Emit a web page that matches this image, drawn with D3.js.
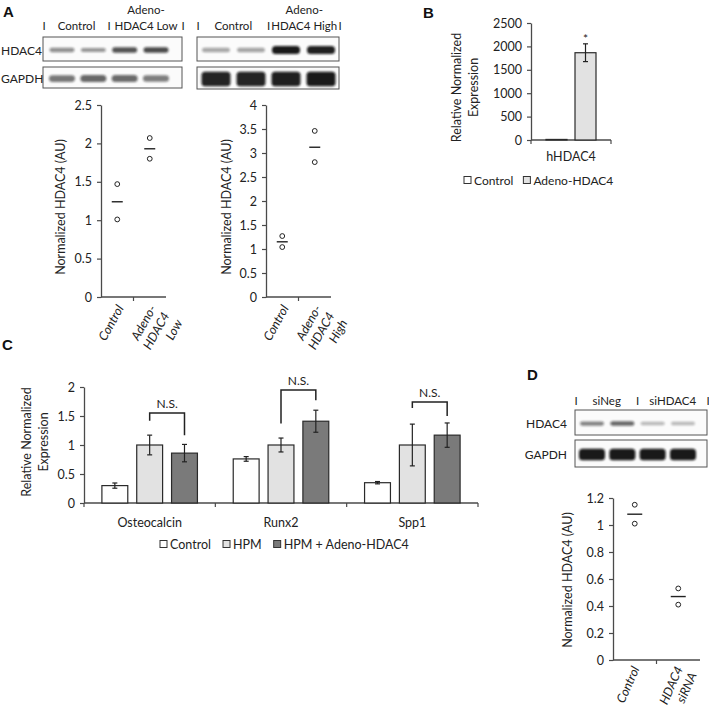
<!DOCTYPE html>
<html><head><meta charset="utf-8">
<script src="https://cdn.jsdelivr.net/npm/d3@7"></script>
<style>body{margin:0;background:#fff}svg{display:block}</style>
</head><body><svg id="chart" width="709" height="710"></svg>
<script>
// ===================== DATA =====================
// Panel A / D western blots: relative band intensity per lane (0-1)
const blotA1Hdac4 = [0.45, 0.42, 0.70, 0.74];
const blotA1Gapdh = [0.55, 0.62, 0.60, 0.52];
const blotA2Hdac4 = [0.35, 0.36, 0.95, 0.92];
const blotA2Gapdh = [0.90, 0.90, 0.92, 0.94];
const blotDHdac4  = [0.50, 0.62, 0.28, 0.28];
const blotDGapdh  = [0.95, 0.95, 0.95, 0.95];
const blotA1Groups = ["Control", "HDAC4 Low"];
const blotA2Groups = ["Control", "HDAC4 High"];
const blotDGroups  = ["siNeg", "siHDAC4"];

// Panel A quantification
const scatterA1Categories = ["Control", "Adeno-\nHDAC4\nLow"];
const scatterA1Values = [[1.47, 1.01], [2.07, 1.80]];
const scatterA1Means  = [1.24, 1.93];
const scatterA1Ticks  = [0, 0.5, 1, 1.5, 2, 2.5];
const scatterA2Categories = ["Control", "Adeno-\nHDAC4\nHigh"];
const scatterA2Values = [[1.27, 1.04], [3.46, 2.81]];
const scatterA2Means  = [1.15, 3.12];
const scatterA2Ticks  = [0, 0.5, 1, 1.5, 2, 2.5, 3, 3.5, 4];

// Panel B
const bCategories = ["hHDAC4"];
const bSeries = ["Control", "Adeno-HDAC4"];
const bValues = [[12], [1865]];
const bErrors = [[0], [190]];
const bSignif = ["", "*"];
const bTicks  = [0, 500, 1000, 1500, 2000, 2500];

// Panel C
const cCategories = ["Osteocalcin", "Runx2", "Spp1"];
const cSeries = ["Control", "HPM", "HPM + Adeno-HDAC4"];
const cValues = [[0.30, 0.76, 0.35], [1.00, 1.00, 1.00], [0.86, 1.41, 1.17]];
const cErrors = [[0.045, 0.04, 0.02], [0.17, 0.12, 0.36], [0.15, 0.19, 0.21]];
const cTicks  = [0, 0.5, 1, 1.5, 2];
const cBracketLevel = [1.55, 1.95, 1.74];
const cBracketLeft  = [1.42, 1.37, 1.64];
const cBracketRight = [1.17, 1.77, 1.50];
const cBracketLabel = ["N.S.", "N.S.", "N.S."];

// Panel D quantification
const scatterDCategories = ["Control", "HDAC4\nsiRNA"];
const scatterDValues = [[1.15, 1.01], [0.53, 0.41]];
const scatterDMeans  = [1.08, 0.47];
const scatterDTicks  = [0, 0.2, 0.4, 0.6, 0.8, 1, 1.2];

// ===================== STYLE =====================
const FONT = "Lato, 'Open Sans', 'DejaVu Sans', sans-serif";
const INK = "#222";
const AXIS = "#4a4a4a";
const bColors = ["#ffffff", "#e2e2e2"];
const cColors = ["#ffffff", "#e2e2e2", "#7a7a7a"];

const svg = d3.select("#chart");
svg.append("rect").attr("width", 709).attr("height", 710).attr("fill", "#fff");
const defs = svg.append("defs");
defs.append("filter").attr("id", "blur").attr("x", "-30%").attr("y", "-80%").attr("width", "160%").attr("height", "260%")
  .append("feGaussianBlur").attr("stdDeviation", 0.9);

function addText(parent, x, y, s, o = {}) {
  return parent.append("text").attr("x", x).attr("y", y).text(s)
    .attr("font-size", o.size || 12.5).attr("text-anchor", o.anchor || "start")
    .attr("font-weight", o.weight || "normal").attr("font-style", o.style || "normal")
    .attr("font-family", o.family || FONT).attr("fill", o.fill || INK);
}
function styleAxis(ax) {
  ax.select(".domain").attr("stroke", AXIS).attr("stroke-width", 1.3);
  ax.selectAll(".tick line").attr("stroke", AXIS).attr("stroke-width", 1.2);
  ax.selectAll(".tick text").attr("font-family", FONT).attr("font-size", 12.5).attr("fill", INK);
}
function panelLetter(x, y, s) {
  addText(svg, x, y, s, { size: 15, weight: "bold", family: "'Liberation Sans', Arial, sans-serif", fill: "#111" });
}

// ===================== BLOTS =====================
function drawBlot(o) {
  const g = svg.append("g");
  const lanes = d3.scalePoint().domain(d3.range(4)).range([o.lane0, o.lane1]);
  o.rows.forEach(r => {
    g.append("rect").attr("x", o.x0).attr("y", r.y0).attr("width", o.x1 - o.x0).attr("height", r.y1 - r.y0)
      .attr("fill", "#fbfbfb").attr("stroke", "#555").attr("stroke-width", 1);
    const hScale = d3.scaleLinear().domain([0, 1]).range([r.hMin, r.hMax]);
    const cy = (r.y0 + r.y1) / 2 + 1;
    r.vals.forEach((v, i) => {
      const h = hScale(v);
      g.append("rect").attr("x", lanes(i) - r.w / 2).attr("y", cy - h / 2).attr("width", r.w).attr("height", h)
        .attr("rx", Math.min(h / 2, 3.5)).attr("fill", "#111").attr("opacity", v).attr("filter", "url(#blur)");
    });
    if (r.label) addText(g, o.labelX, cy + 4.5, r.label, { anchor: o.labelAnchor, size: 12 });
  });
  // header: separators and group labels
  const seps = [o.x0 + 1, (lanes(1) + lanes(2)) / 2, o.x1 + 1];
  seps.forEach(s => addText(g, s, o.headerY, "I", { anchor: "middle", size: 11.5 }));
  o.groups.forEach((gr, i) => addText(g, (seps[i] + seps[i + 1]) / 2, o.headerY, gr, { anchor: "middle", size: 11.5 }));
  if (o.topLabel) addText(g, (seps[1] + seps[2]) / 2, o.headerY - 16, o.topLabel, { anchor: "middle", size: 11.5 });
}

drawBlot({ x0: 43, x1: 182, lane0: 62, lane1: 156, headerY: 30, labelX: 1, labelAnchor: "start", groups: blotA1Groups, topLabel: "Adeno-",
  rows: [{ label: "HDAC4", y0: 37, y1: 61, vals: blotA1Hdac4, hMin: 2.5, hMax: 6.5, w: 25 },
         { label: "GAPDH", y0: 67, y1: 88, vals: blotA1Gapdh, hMin: 4, hMax: 9, w: 26 }] });
drawBlot({ x0: 197, x1: 339, lane0: 216, lane1: 321, headerY: 30, labelX: 0, labelAnchor: "start", groups: blotA2Groups, topLabel: "Adeno-",
  rows: [{ label: "", y0: 37, y1: 61, vals: blotA2Hdac4, hMin: 2.5, hMax: 8.5, w: 28 },
         { label: "", y0: 67, y1: 89, vals: blotA2Gapdh, hMin: 8, hMax: 15, w: 29 }] });
drawBlot({ x0: 575, x1: 707, lane0: 592, lane1: 683, headerY: 405, labelX: 567, labelAnchor: "end", groups: blotDGroups, topLabel: null,
  rows: [{ label: "HDAC4", y0: 410, y1: 435, vals: blotDHdac4, hMin: 2.5, hMax: 6, w: 24 },
         { label: "GAPDH", y0: 440, y1: 467, vals: blotDGapdh, hMin: 7, hMax: 11.5, w: 26 }] });

// ===================== SCATTERS =====================
function drawScatter(o) {
  const g = svg.append("g");
  const y = d3.scaleLinear().domain([0, d3.max(o.ticks)]).range([o.yBottom, o.yTop]);
  const x = d3.scalePoint().domain(o.categories).range([o.x0, o.x1]).padding(0.5);
  const ax = g.append("g").attr("transform", `translate(${o.x0},0)`)
    .call(d3.axisLeft(y).tickValues(o.ticks).tickSize(4).tickSizeOuter(0).tickPadding(5).tickFormat(d3.format("~g")));
  styleAxis(ax);
  g.append("line").attr("x1", o.x0).attr("x2", o.x1).attr("y1", y(0)).attr("y2", y(0)).attr("stroke", AXIS).attr("stroke-width", 1.3);
  const mid = (x(o.categories[0]) + x(o.categories[1])) / 2;
  g.append("line").attr("x1", mid).attr("x2", mid).attr("y1", y(0)).attr("y2", y(0) + 4).attr("stroke", AXIS).attr("stroke-width", 1.2);
  o.categories.forEach((c, i) => {
    o.values[i].forEach(v => g.append("circle").attr("cx", x(c)).attr("cy", y(v)).attr("r", 2.4)
      .attr("fill", "none").attr("stroke", INK).attr("stroke-width", 1));
    g.append("line").attr("x1", x(c) - o.meanHalf).attr("x2", x(c) + o.meanHalf)
      .attr("y1", y(o.means[i])).attr("y2", y(o.means[i])).attr("stroke", INK).attr("stroke-width", 1.4);
    const lab = g.append("text").attr("transform", `translate(${x(c) + o.labDx},${y(0) + o.labDy}) rotate(${o.angle})`)
      .attr("text-anchor", "end").attr("font-family", FONT).attr("font-size", 12.5).attr("font-style", "italic").attr("fill", INK);
    c.split("\n").forEach((line, j) => lab.append("tspan").attr("x", 0).attr("dy", j === 0 ? "0.35em" : "1.2em").text(line));
  });
  g.append("text").attr("transform", `translate(${o.titleX},${(y(0) + y(d3.max(o.ticks))) / 2 + o.titleDy}) rotate(-90)`)
    .attr("text-anchor", "middle").attr("dy", "0.35em").attr("font-family", FONT).attr("font-size", 12.5).attr("fill", INK)
    .text("Normalized HDAC4 (AU)");
}

drawScatter({ categories: scatterA1Categories, values: scatterA1Values, means: scatterA1Means, ticks: scatterA1Ticks,
  x0: 101, x1: 166, yTop: 105, yBottom: 297, meanHalf: 5.5, labDx: 3, labDy: 9, angle: -61, titleX: 61, titleDy: 6 });
drawScatter({ categories: scatterA2Categories, values: scatterA2Values, means: scatterA2Means, ticks: scatterA2Ticks,
  x0: 266, x1: 331, yTop: 105, yBottom: 297, meanHalf: 5.5, labDx: 3, labDy: 9, angle: -61, titleX: 227, titleDy: 6 });
drawScatter({ categories: scatterDCategories, values: scatterDValues, means: scatterDMeans, ticks: scatterDTicks,
  x0: 613, x1: 700, yTop: 498, yBottom: 660, meanHalf: 7.5, labDx: 1, labDy: 7, angle: -66, titleX: 568, titleDy: 1 });

// ===================== BAR CHARTS =====================
function drawBars(o) {
  const g = svg.append("g");
  const y = d3.scaleLinear().domain([0, d3.max(o.ticks)]).range([o.yBottom, o.yTop]);
  const x0 = d3.scaleBand().domain(o.categories).range([o.x0, o.x1]);
  const x1 = d3.scaleBand().domain(o.series).range([0, x0.bandwidth()]).paddingInner(o.pi).paddingOuter(o.po);
  const ax = g.append("g").attr("transform", `translate(${o.x0},0)`)
    .call(d3.axisLeft(y).tickValues(o.ticks).tickSize(4).tickSizeOuter(0).tickPadding(5).tickFormat(d3.format("~g")));
  styleAxis(ax);
  g.append("line").attr("x1", o.x0).attr("x2", o.x1).attr("y1", y(0)).attr("y2", y(0)).attr("stroke", AXIS).attr("stroke-width", 1.3);
  const bounds = o.categories.map(c => x0(c)).concat([o.x1]);
  bounds.forEach(b => g.append("line").attr("x1", b).attr("x2", b).attr("y1", y(0)).attr("y2", y(0) + 4)
    .attr("stroke", AXIS).attr("stroke-width", 1.2));
  o.series.forEach((s, si) => {
    o.categories.forEach((c, ci) => {
      const v = o.values[si][ci], e = o.errors[si][ci];
      const bx = x0(c) + x1(s), bw = x1.bandwidth(), cx = bx + bw / 2;
      g.append("rect").attr("x", bx).attr("y", y(v)).attr("width", bw).attr("height", y(0) - y(v))
        .attr("fill", o.colors[si]).attr("stroke", "#2a2a2a").attr("stroke-width", 1.2);
      if (e > 0) {
        g.append("line").attr("x1", cx).attr("x2", cx).attr("y1", y(v - e)).attr("y2", y(v + e)).attr("stroke", INK).attr("stroke-width", 1.2);
        [v - e, v + e].forEach(t => g.append("line").attr("x1", cx - 2.5).attr("x2", cx + 2.5).attr("y1", y(t)).attr("y2", y(t))
          .attr("stroke", INK).attr("stroke-width", 1.2));
      }
      if (o.signif && o.signif[si]) addText(g, cx, y(v + e) - 1, o.signif[si], { anchor: "middle", size: 12 });
    });
  });
  o.categories.forEach(c => addText(g, x0(c) + x0.bandwidth() / 2, y(0) + o.catDy, c, { anchor: "middle", size: 12.5 }));
  // brackets
  if (o.brackets) {
    o.categories.forEach((c, ci) => {
      const xl = x0(c) + x1(o.series[1]) + x1.bandwidth() / 2;
      const xr = x0(c) + x1(o.series[2]) + x1.bandwidth() / 2;
      const lv = y(o.brackets.level[ci]);
      g.append("path").attr("d", `M${xl},${y(o.brackets.left[ci])}V${lv}H${xr}V${y(o.brackets.right[ci])}`)
        .attr("fill", "none").attr("stroke", INK).attr("stroke-width", 1.5);
      addText(g, (xl + xr) / 2, lv - 5, o.brackets.label[ci], { anchor: "middle", size: 12 });
    });
  }
  // y title (two lines)
  const tyc = (y(0) + y(d3.max(o.ticks))) / 2 + o.titleDy;
  o.title.forEach((t, i) => g.append("text").attr("transform", `translate(${o.titleX + i * 17},${tyc}) rotate(-90)`)
    .attr("text-anchor", "middle").attr("dy", "0.35em").attr("font-family", FONT).attr("font-size", 12.5).attr("fill", INK).text(t));
  // legend
  let lx = o.legendX;
  o.series.forEach((s, si) => {
    g.append("rect").attr("x", lx).attr("y", o.legendY - 3.5).attr("width", 7).attr("height", 7)
      .attr("fill", o.colors[si]).attr("stroke", "#333").attr("stroke-width", 1);
    const t = addText(g, lx + 10, o.legendY + 4.5, s, { size: o.legendSize });
    lx += 10 + t.node().getComputedTextLength() + o.legendGap;
  });
}

drawBars({ categories: bCategories, series: bSeries, values: bValues, errors: bErrors, signif: bSignif, ticks: bTicks,
  colors: bColors, x0: 531, x1: 611, yTop: 23, yBottom: 140, pi: 0.276, po: 0.517, catDy: 21,
  title: ["Relative Normalized", "Expression"], titleX: 457, titleDy: 6, legendX: 464, legendY: 180, legendGap: 10, legendSize: 12 });

drawBars({ categories: cCategories, series: cSeries, values: cValues, errors: cErrors, ticks: cTicks,
  colors: cColors, x0: 84, x1: 478, yTop: 387, yBottom: 503, pi: 0.257, po: 0.514, catDy: 24,
  brackets: { level: cBracketLevel, left: cBracketLeft, right: cBracketRight, label: cBracketLabel },
  title: ["Relative Normalized", "Expression"], titleX: 27, titleDy: -3, legendX: 160, legendY: 544, legendGap: 12, legendSize: 12.5 });

// ===================== PANEL LETTERS =====================
panelLetter(3, 17, "A");
panelLetter(423, 18, "B");
panelLetter(2, 350, "C");
panelLetter(527, 380, "D");
</script></body></html>
